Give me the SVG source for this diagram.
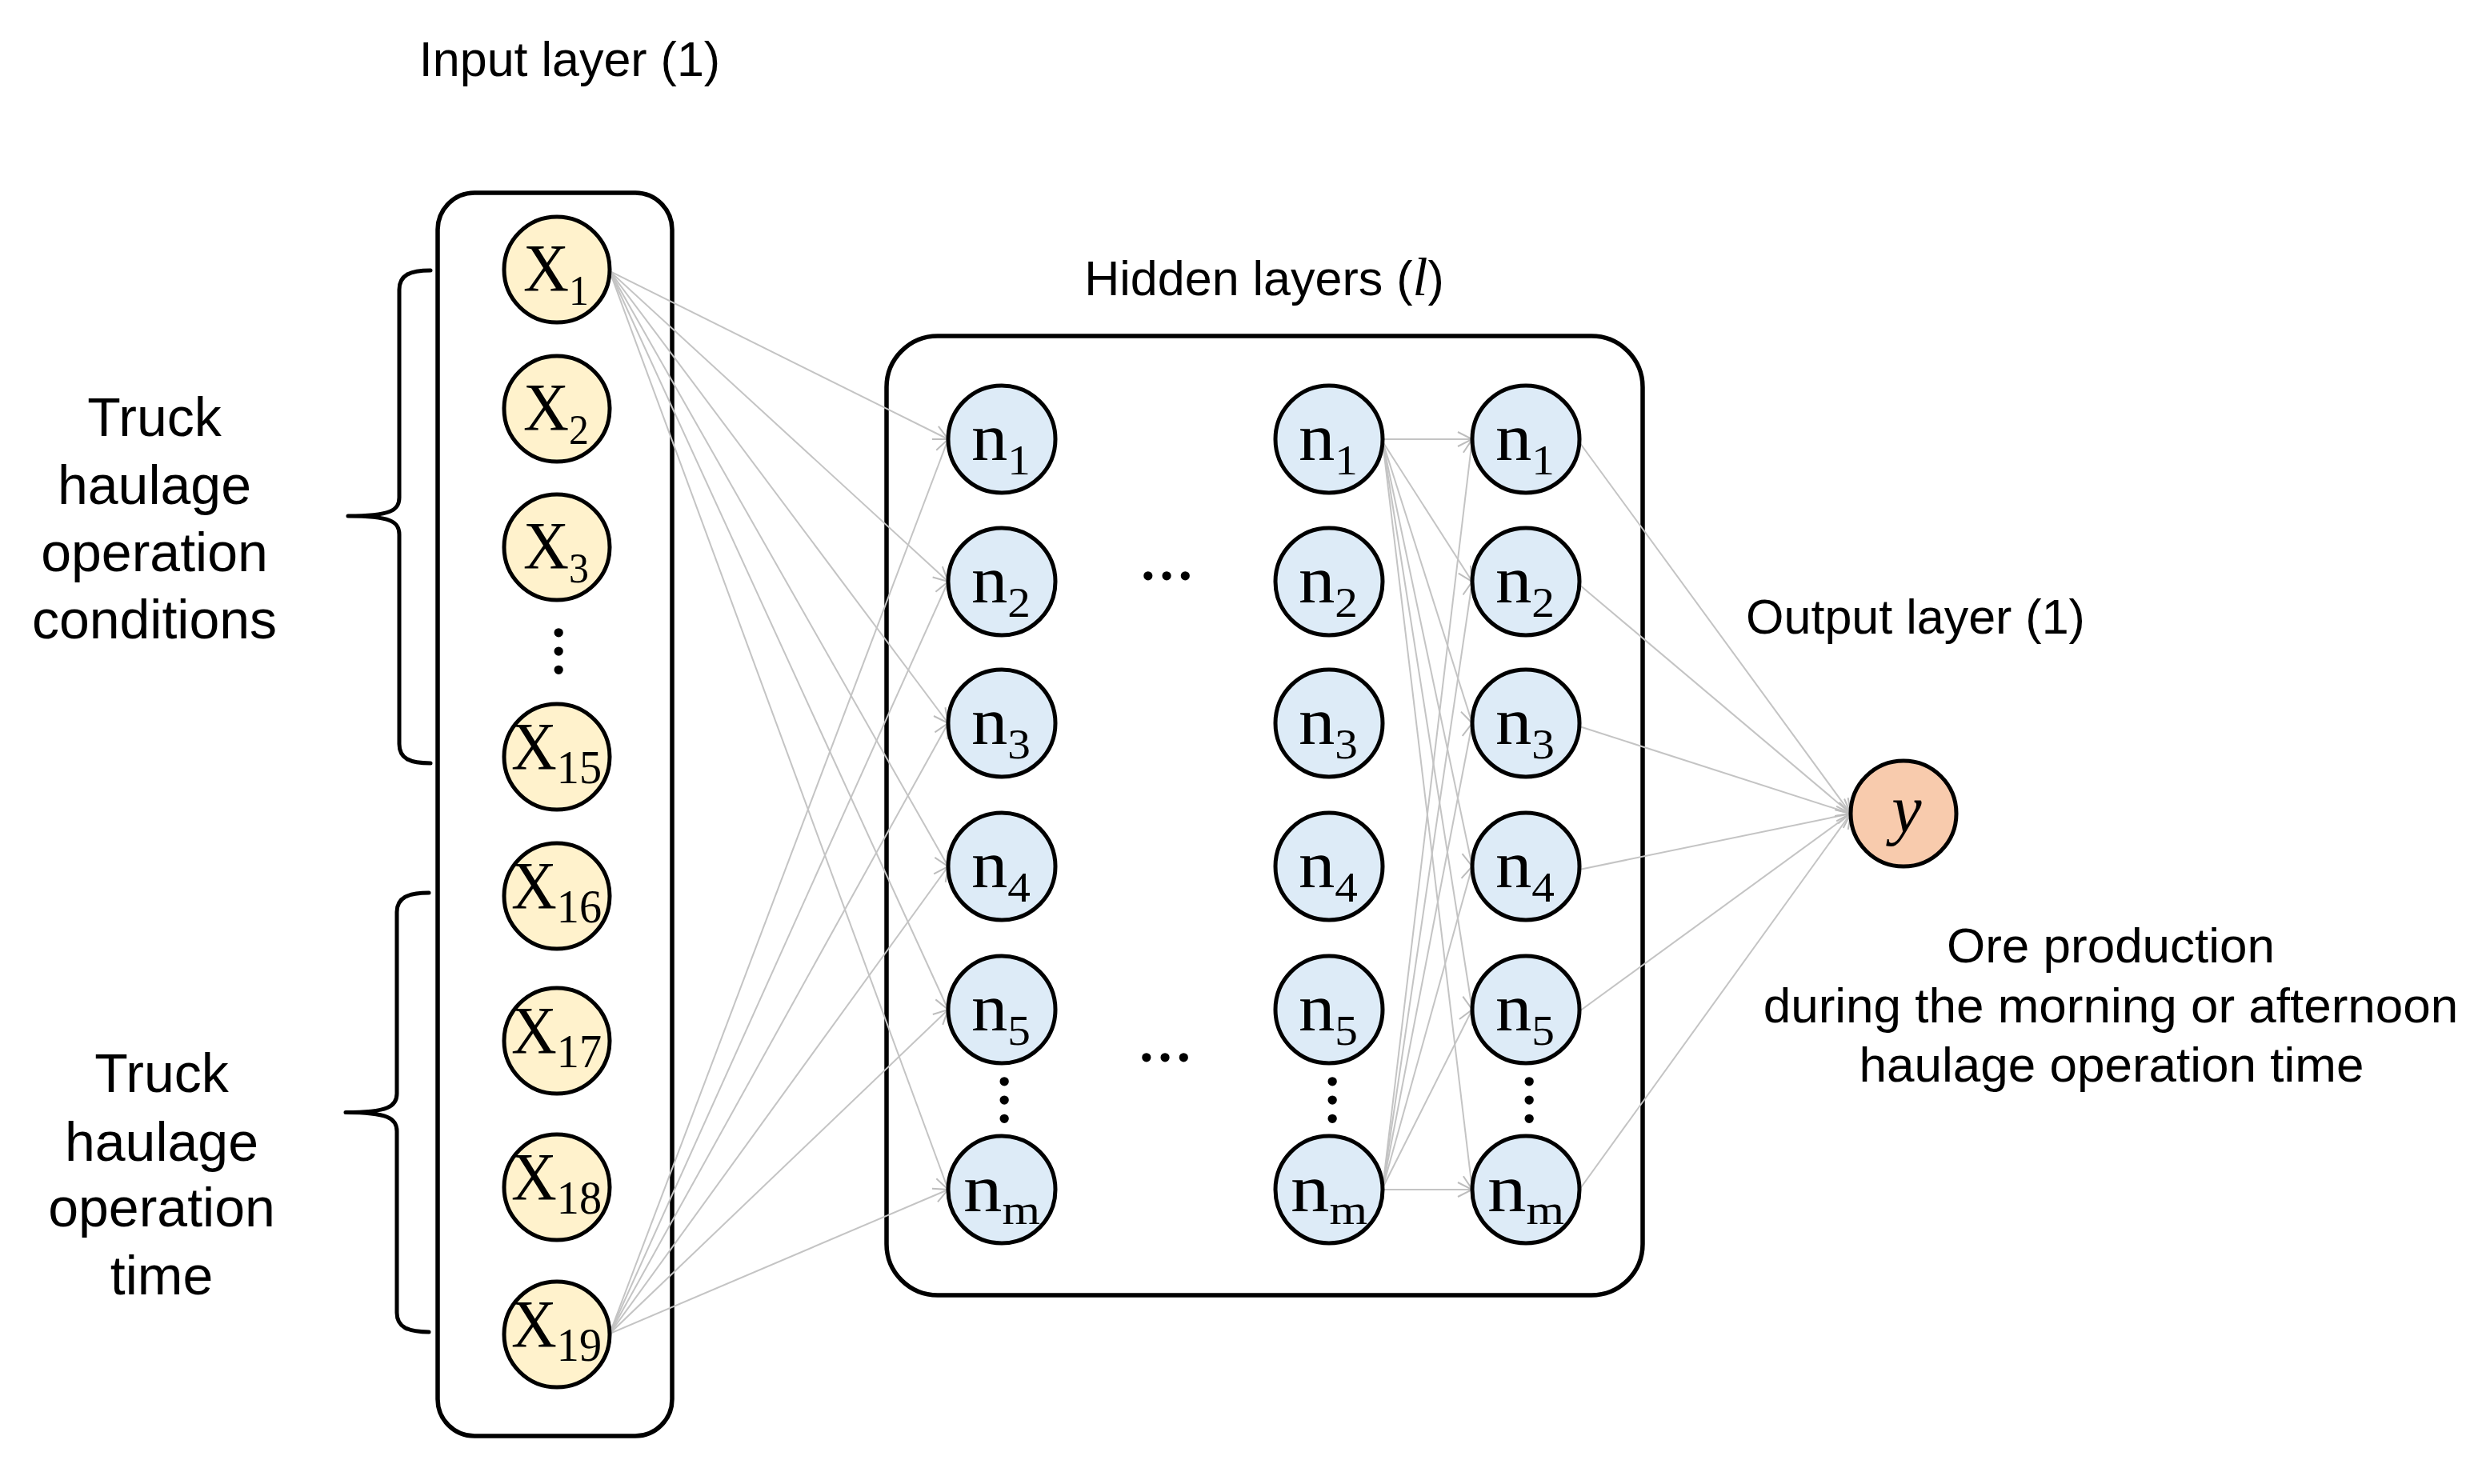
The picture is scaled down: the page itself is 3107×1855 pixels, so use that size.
<svg xmlns="http://www.w3.org/2000/svg" width="3107" height="1855" viewBox="0 0 3107 1855">
<style>
.bg{fill:#fff}
.box{fill:none;stroke:#000;stroke-width:5.5}
.brace{fill:none;stroke:#000;stroke-width:5;stroke-linecap:round;stroke-linejoin:round}
.in{fill:#FFF2CC;stroke:#000;stroke-width:5}
.hid{fill:#DDEBF7;stroke:#000;stroke-width:5}
.out{fill:#F8CBAD;stroke:#000;stroke-width:5}
.lbl{font-family:"Liberation Serif","Times New Roman",serif;font-size:84px;fill:#000}
.sub{font-size:53px}
.sub2{font-size:60px}
.title{font-family:"Liberation Sans",Arial,sans-serif;font-size:61px;fill:#000}
.side{font-family:"Liberation Sans",Arial,sans-serif;font-size:68px;fill:#000;text-anchor:middle}
.desc{font-family:"Liberation Sans",Arial,sans-serif;font-size:62px;fill:#000;text-anchor:middle}
.el{font-family:"Liberation Serif","Times New Roman",serif;font-size:69px;font-weight:bold;fill:#000;text-anchor:middle}
.conn line{stroke:#c4c4c4;stroke-width:2;marker-end:url(#arr)}
</style>
<defs>
<marker id="arr" markerUnits="userSpaceOnUse" viewBox="0 0 20 20" refX="19" refY="10" markerWidth="20" markerHeight="20" orient="auto">
<path d="M1,1 L19,10 L1,19" fill="none" stroke="#bdbdbd" stroke-width="2"/>
</marker>
</defs>
<rect class="bg" x="0" y="0" width="3107" height="1855"/>

<g id="titles">
<text class="title" x="712" y="95" text-anchor="middle">Input layer (1)</text>
<text class="title" x="1580" y="369" text-anchor="middle">Hidden layers (<tspan font-family="Liberation Serif, serif" font-style="italic" font-size="68">l</tspan>)</text>
<text class="title" x="2394" y="792" text-anchor="middle">Output layer (1)</text>
</g>

<g id="group-conditions">
<path class="brace" d="M538,338 C512,338 499,344 499,362 L499,622 C499,638 488,645 435,645 C488,645 499,652 499,668 L499,930 C499,948 512,954 538,954"/>
<text class="side" x="193" y="545">Truck</text>
<text class="side" x="193" y="630">haulage</text>
<text class="side" x="193" y="714">operation</text>
<text class="side" x="193" y="798">conditions</text>
</g>
<g id="group-time">
<path class="brace" d="M536,1116 C510,1116 496,1122 496,1140 L496,1367 C496,1383 485,1390.5 432,1390.5 C485,1390.5 496,1398 496,1414 L496,1641 C496,1659 510,1665 536,1665"/>
<text class="side" x="202" y="1365">Truck</text>
<text class="side" x="202" y="1451">haulage</text>
<text class="side" x="202" y="1533">operation</text>
<text class="side" x="202" y="1618">time</text>
</g>

<g id="input-layer-box"><rect class="box" x="547" y="241" width="293" height="1554" rx="46"/></g>
<g id="hidden-layer-box"><rect class="box" x="1108" y="420" width="945" height="1199" rx="64"/></g>

<g class="conn" id="connectors">
<line x1="762" y1="339" x2="1185" y2="549"/>
<line x1="762" y1="339" x2="1185" y2="727"/>
<line x1="762" y1="339" x2="1185" y2="904"/>
<line x1="762" y1="339" x2="1185" y2="1083"/>
<line x1="762" y1="339" x2="1185" y2="1262"/>
<line x1="762" y1="339" x2="1185" y2="1487"/>
<line x1="762" y1="1667" x2="1185" y2="549"/>
<line x1="762" y1="1667" x2="1185" y2="727"/>
<line x1="762" y1="1667" x2="1185" y2="904"/>
<line x1="762" y1="1667" x2="1185" y2="1083"/>
<line x1="762" y1="1667" x2="1185" y2="1262"/>
<line x1="762" y1="1667" x2="1185" y2="1487"/>
<line x1="1728" y1="549" x2="1840" y2="549"/>
<line x1="1728" y1="552" x2="1840" y2="727"/>
<line x1="1728" y1="552" x2="1840" y2="904"/>
<line x1="1728" y1="552" x2="1840" y2="1083"/>
<line x1="1728" y1="552" x2="1840" y2="1262"/>
<line x1="1728" y1="552" x2="1840" y2="1487"/>
<line x1="1728" y1="1485" x2="1840" y2="549"/>
<line x1="1728" y1="1485" x2="1840" y2="727"/>
<line x1="1728" y1="1485" x2="1840" y2="904"/>
<line x1="1728" y1="1485" x2="1840" y2="1083"/>
<line x1="1728" y1="1485" x2="1840" y2="1262"/>
<line x1="1728" y1="1487" x2="1840" y2="1487"/>
<line x1="1974" y1="553" x2="2313" y2="1017"/>
<line x1="1974" y1="731" x2="2313" y2="1017"/>
<line x1="1974" y1="908" x2="2313" y2="1017"/>
<line x1="1974" y1="1087" x2="2313" y2="1017"/>
<line x1="1974" y1="1264" x2="2313" y2="1017"/>
<line x1="1974" y1="1487" x2="2313" y2="1017"/>
</g>

<g id="X1"><circle class="in" cx="696" cy="337" r="66"/><text class="lbl" x="654" y="364" textLength="82" lengthAdjust="spacingAndGlyphs">X<tspan class="sub" dy="17">1</tspan></text></g>
<g id="X2"><circle class="in" cx="696" cy="511" r="66"/><text class="lbl" x="654" y="538" textLength="82" lengthAdjust="spacingAndGlyphs">X<tspan class="sub" dy="17">2</tspan></text></g>
<g id="X3"><circle class="in" cx="696" cy="684" r="66"/><text class="lbl" x="654" y="711" textLength="82" lengthAdjust="spacingAndGlyphs">X<tspan class="sub" dy="17">3</tspan></text></g>
<g id="input-dots"><text class="el" transform="translate(698,814) rotate(90)" x="0" y="5">…</text></g>
<g id="X15"><circle class="in" cx="696" cy="946" r="66"/><text class="lbl" x="639" y="962" textLength="113" lengthAdjust="spacingAndGlyphs">X<tspan class="sub2" dy="17">15</tspan></text></g>
<g id="X16"><circle class="in" cx="696" cy="1120" r="66"/><text class="lbl" x="639" y="1136" textLength="113" lengthAdjust="spacingAndGlyphs">X<tspan class="sub2" dy="17">16</tspan></text></g>
<g id="X17"><circle class="in" cx="696" cy="1301" r="66"/><text class="lbl" x="639" y="1317" textLength="113" lengthAdjust="spacingAndGlyphs">X<tspan class="sub2" dy="17">17</tspan></text></g>
<g id="X18"><circle class="in" cx="696" cy="1484" r="66"/><text class="lbl" x="639" y="1500" textLength="113" lengthAdjust="spacingAndGlyphs">X<tspan class="sub2" dy="17">18</tspan></text></g>
<g id="X19"><circle class="in" cx="696" cy="1668" r="66"/><text class="lbl" x="639" y="1684" textLength="113" lengthAdjust="spacingAndGlyphs">X<tspan class="sub2" dy="17">19</tspan></text></g>

<g id="h1-n1"><circle class="hid" cx="1252" cy="549" r="67"/><text class="lbl" x="1214" y="575" textLength="74" lengthAdjust="spacingAndGlyphs">n<tspan class="sub" dy="18">1</tspan></text></g>
<g id="h1-n2"><circle class="hid" cx="1252" cy="727" r="67"/><text class="lbl" x="1214" y="753" textLength="74" lengthAdjust="spacingAndGlyphs">n<tspan class="sub" dy="18">2</tspan></text></g>
<g id="h1-n3"><circle class="hid" cx="1252" cy="904" r="67"/><text class="lbl" x="1214" y="930" textLength="74" lengthAdjust="spacingAndGlyphs">n<tspan class="sub" dy="18">3</tspan></text></g>
<g id="h1-n4"><circle class="hid" cx="1252" cy="1083" r="67"/><text class="lbl" x="1214" y="1109" textLength="74" lengthAdjust="spacingAndGlyphs">n<tspan class="sub" dy="18">4</tspan></text></g>
<g id="h1-n5"><circle class="hid" cx="1252" cy="1262" r="67"/><text class="lbl" x="1214" y="1288" textLength="74" lengthAdjust="spacingAndGlyphs">n<tspan class="sub" dy="18">5</tspan></text></g>
<g id="h1-dots"><text class="el" transform="translate(1255,1375) rotate(90)" x="0" y="5">…</text></g>
<g id="h1-nm"><circle class="hid" cx="1252" cy="1487" r="67"/><text class="lbl" x="1204" y="1514" textLength="96" lengthAdjust="spacingAndGlyphs">n<tspan class="sub" dy="16">m</tspan></text></g>

<g id="hidden-ellipsis"><text class="el" x="1458" y="725">…</text><text class="el" x="1456" y="1327">…</text></g>

<g id="h2-n1"><circle class="hid" cx="1661" cy="549" r="67"/><text class="lbl" x="1623" y="575" textLength="74" lengthAdjust="spacingAndGlyphs">n<tspan class="sub" dy="18">1</tspan></text></g>
<g id="h2-n2"><circle class="hid" cx="1661" cy="727" r="67"/><text class="lbl" x="1623" y="753" textLength="74" lengthAdjust="spacingAndGlyphs">n<tspan class="sub" dy="18">2</tspan></text></g>
<g id="h2-n3"><circle class="hid" cx="1661" cy="904" r="67"/><text class="lbl" x="1623" y="930" textLength="74" lengthAdjust="spacingAndGlyphs">n<tspan class="sub" dy="18">3</tspan></text></g>
<g id="h2-n4"><circle class="hid" cx="1661" cy="1083" r="67"/><text class="lbl" x="1623" y="1109" textLength="74" lengthAdjust="spacingAndGlyphs">n<tspan class="sub" dy="18">4</tspan></text></g>
<g id="h2-n5"><circle class="hid" cx="1661" cy="1262" r="67"/><text class="lbl" x="1623" y="1288" textLength="74" lengthAdjust="spacingAndGlyphs">n<tspan class="sub" dy="18">5</tspan></text></g>
<g id="h2-dots"><text class="el" transform="translate(1665,1375) rotate(90)" x="0" y="5">…</text></g>
<g id="h2-nm"><circle class="hid" cx="1661" cy="1487" r="67"/><text class="lbl" x="1613" y="1514" textLength="96" lengthAdjust="spacingAndGlyphs">n<tspan class="sub" dy="16">m</tspan></text></g>

<g id="h3-n1"><circle class="hid" cx="1907" cy="549" r="67"/><text class="lbl" x="1869" y="575" textLength="74" lengthAdjust="spacingAndGlyphs">n<tspan class="sub" dy="18">1</tspan></text></g>
<g id="h3-n2"><circle class="hid" cx="1907" cy="727" r="67"/><text class="lbl" x="1869" y="753" textLength="74" lengthAdjust="spacingAndGlyphs">n<tspan class="sub" dy="18">2</tspan></text></g>
<g id="h3-n3"><circle class="hid" cx="1907" cy="904" r="67"/><text class="lbl" x="1869" y="930" textLength="74" lengthAdjust="spacingAndGlyphs">n<tspan class="sub" dy="18">3</tspan></text></g>
<g id="h3-n4"><circle class="hid" cx="1907" cy="1083" r="67"/><text class="lbl" x="1869" y="1109" textLength="74" lengthAdjust="spacingAndGlyphs">n<tspan class="sub" dy="18">4</tspan></text></g>
<g id="h3-n5"><circle class="hid" cx="1907" cy="1262" r="67"/><text class="lbl" x="1869" y="1288" textLength="74" lengthAdjust="spacingAndGlyphs">n<tspan class="sub" dy="18">5</tspan></text></g>
<g id="h3-dots"><text class="el" transform="translate(1911,1375) rotate(90)" x="0" y="5">…</text></g>
<g id="h3-nm"><circle class="hid" cx="1907" cy="1487" r="67"/><text class="lbl" x="1859" y="1514" textLength="96" lengthAdjust="spacingAndGlyphs">n<tspan class="sub" dy="16">m</tspan></text></g>

<g id="output-y"><circle class="out" cx="2379" cy="1017" r="66"/><text class="lbl" x="2383" y="1040" text-anchor="middle" font-style="italic" font-size="92">y</text></g>

<g id="output-desc">
<text class="desc" x="2638" y="1203">Ore production</text>
<text class="desc" x="2638" y="1278">during the morning or afternoon</text>
<text class="desc" x="2639" y="1352">haulage operation time</text>
</g>
</svg>
